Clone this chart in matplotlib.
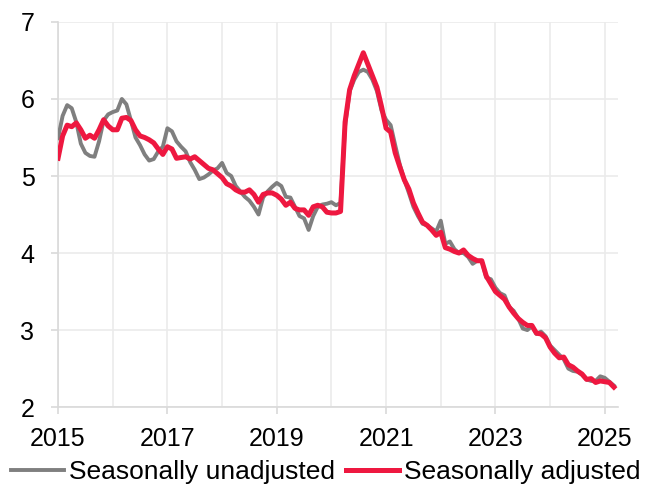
import numpy as np
import matplotlib
matplotlib.use("Agg")
import matplotlib.pyplot as plt
from matplotlib.ticker import MultipleLocator

plt.rcParams['font.family'] = ['Liberation Sans', 'DejaVu Sans']

# 月次データ (2015年1月〜2025年3月)
start_year = 2015

unadjusted = [
    5.49, 5.78, 5.92, 5.88, 5.70, 5.42, 5.30, 5.26, 5.25, 5.45, 5.72, 5.80,
    5.83, 5.85, 6.00, 5.93, 5.72, 5.50, 5.40, 5.28, 5.20, 5.22, 5.32, 5.38,
    5.62, 5.58, 5.45, 5.38, 5.32, 5.18, 5.08, 4.96, 4.98, 5.02, 5.07, 5.10,
    5.17, 5.04, 5.00, 4.87, 4.80, 4.73, 4.68, 4.60, 4.50, 4.72, 4.80, 4.86,
    4.91, 4.87, 4.73, 4.72, 4.60, 4.48, 4.45, 4.30, 4.48, 4.60, 4.63, 4.64,
    4.66, 4.62, 4.65, 5.65, 6.10, 6.25, 6.35, 6.38, 6.35, 6.25, 6.10, 5.85,
    5.73, 5.66, 5.40, 5.15, 4.95, 4.78, 4.60, 4.48, 4.38, 4.36, 4.32, 4.28,
    4.42, 4.12, 4.15, 4.05, 4.00, 4.00, 3.95, 3.86, 3.90, 3.90, 3.68, 3.66,
    3.55, 3.48, 3.45, 3.30, 3.25, 3.15, 3.02, 3.00, 3.05, 2.95, 2.98, 2.92,
    2.80, 2.74, 2.68, 2.62, 2.50, 2.47, 2.46, 2.42, 2.36, 2.34, 2.34, 2.40,
    2.38, 2.33, 2.28,
]

adjusted = [
    5.23, 5.52, 5.66, 5.64, 5.69, 5.60, 5.49, 5.53, 5.49, 5.60, 5.73, 5.65,
    5.60, 5.60, 5.75, 5.76, 5.72, 5.60, 5.52, 5.50, 5.47, 5.43, 5.35, 5.28,
    5.38, 5.35, 5.23, 5.24, 5.25, 5.22, 5.25, 5.20, 5.15, 5.10, 5.08, 5.03,
    4.98, 4.90, 4.87, 4.82, 4.79, 4.79, 4.82, 4.76, 4.66, 4.76, 4.78, 4.78,
    4.75, 4.70, 4.62, 4.66, 4.58, 4.56, 4.56, 4.49, 4.60, 4.62, 4.60, 4.53,
    4.52, 4.52, 4.54, 5.70, 6.12, 6.30, 6.45, 6.60, 6.45, 6.30, 6.15, 5.90,
    5.62, 5.57, 5.30, 5.12, 4.95, 4.83, 4.65, 4.52, 4.40, 4.36, 4.30, 4.23,
    4.27, 4.07, 4.05, 4.02, 4.00, 4.04, 3.97, 3.93, 3.90, 3.90, 3.70, 3.60,
    3.50, 3.45, 3.40, 3.30, 3.22, 3.15, 3.10, 3.06, 3.06, 2.96, 2.95, 2.90,
    2.78, 2.70, 2.64, 2.65, 2.55, 2.52, 2.47, 2.43, 2.36, 2.37, 2.32, 2.34,
    2.33, 2.32, 2.26,
]

year_ticks = [2015, 2017, 2019, 2021, 2023, 2025]
y_ticks = [2, 3, 4, 5, 6, 7]

dates = start_year + np.arange(len(adjusted)) / 12

fig = plt.figure(figsize=(6.45, 4.87), dpi=100)
ax = fig.add_axes([0.09, 0.164, 0.868, 0.791])

ax.plot(dates, unadjusted, color='#7f7f7f', lw=2.8, label='Seasonally unadjusted', zorder=3)
ax.plot(dates, adjusted, color='#ee1840', lw=3.6, label='Seasonally adjusted', zorder=4)

ax.set_xlim(2015, 2025.24)
ax.set_ylim(2, 7)
ax.set_xticks(year_ticks)
ax.set_xticklabels([str(y) for y in year_ticks])
ax.xaxis.set_minor_locator(MultipleLocator(1))
ax.set_yticks(y_ticks)

ax.grid(True, which='both', color='#ebebeb', lw=1.2, zorder=0)
ax.set_axisbelow(True)
for s in ['top', 'right']:
    ax.spines[s].set_visible(False)
for s in ['left', 'bottom']:
    ax.spines[s].set_color('#d9d9d9')
    ax.spines[s].set_linewidth(1.2)

ax.tick_params(axis='both', which='major', labelsize=18, color='#d9d9d9', length=5, width=1.2)
ax.tick_params(axis='y', pad=12)
ax.tick_params(axis='x', pad=9)
ax.tick_params(which='minor', length=0)

fig.legend(loc='lower center', bbox_to_anchor=(0.505, 0.0), ncol=2, frameon=False,
           fontsize=19, handlelength=2.0, handletextpad=0.2, columnspacing=0.4,
           borderpad=0.1, borderaxespad=0)

fig.savefig('out.png', dpi=100)
